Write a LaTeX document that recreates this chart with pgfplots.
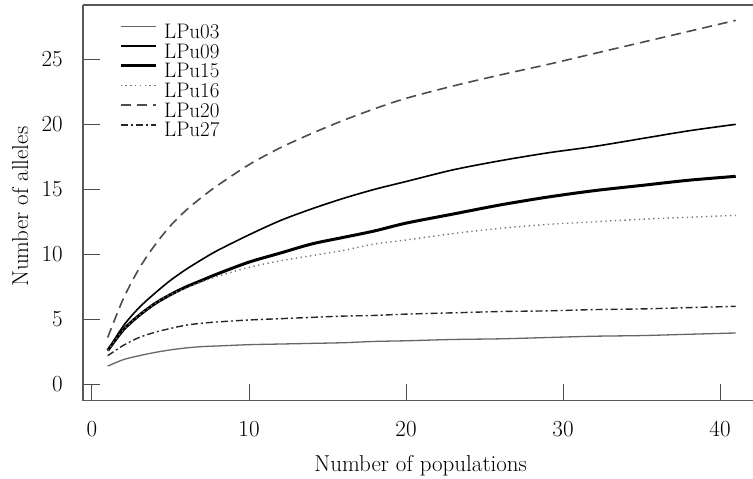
\documentclass[border=0pt]{standalone}
\usepackage{fontspec}
\usepackage{pgfplots}
\usepackage{pgfplotstable}
\pgfplotsset{compat=1.18}
\usetikzlibrary{calc}

% allelic richness vs. number of populations
\pgfplotstableread{
x  LPu03 LPu09 LPu15 LPu16 LPu20 LPu27
1  1.40  2.60  2.60  2.60  3.60  2.20
2  1.90  4.50  4.20  4.20  6.60  3.00
3  2.20  5.90  5.30  5.30  8.90  3.60
4  2.45  7.00  6.20  6.20  10.7  4.00
5  2.65  8.00  6.90  6.90  12.2  4.30
6  2.80  8.85  7.50  7.40  13.4  4.55
7  2.90  9.60  8.00  7.90  14.4  4.70
8  2.95  10.3  8.50  8.30  15.3  4.80
10 3.05  11.5  9.40  9.00  16.9  4.95
12 3.10  12.6  10.1  9.50  18.2  5.05
14 3.15  13.5  10.8  9.90  19.3  5.15
16 3.20  14.3  11.3  10.3  20.3  5.25
18 3.30  15.0  11.8  10.8  21.2  5.30
20 3.35  15.6  12.4  11.1  22.0  5.40
23 3.45  16.5  13.1  11.6  22.95 5.50
26 3.50  17.2  13.8  12.0  23.8  5.60
29 3.60  17.8  14.4  12.3  24.6  5.65
32 3.70  18.3  14.9  12.5  25.45 5.75
35 3.75  18.9  15.3  12.7  26.3  5.80
38 3.85  19.5  15.7  12.85 27.15 5.90
41 3.95  20.0  16.0  13.0  28.0  6.00
}\rich

\begin{document}
\begin{tikzpicture}
\begin{axis}[
  scale only axis, width=670pt, height=395.7pt,
  xmin=-0.573, xmax=42.1, ymin=-1.26, ymax=29.18,
  axis x line=box, axis y line=left,
  axis line style={draw=black!65,line width=1.3pt},
  y axis line style={-},
  xtick={0,10,20,30,40}, ytick={0,5,10,15,20,25},
  xtick pos=left, ytick pos=left,
  tick align=inside, major tick length=17pt,
  tick style={draw=black!70,line width=1pt},
  /pgf/number format/assume math mode=true,
  tick label style={font=\fontsize{23}{27}\selectfont},
  xticklabel style={anchor=north,inner sep=0pt,yshift=-20pt},
  yticklabel style={anchor=east,inner sep=0pt,xshift=-20pt},
  xlabel={Number of populations}, ylabel={Number of alleles},
  every axis x label/.style={at={(axis description cs:0.504,-0.165)},anchor=center,
    font=\fontsize{23}{27}\selectfont},
  every axis y label/.style={at={(axis description cs:-0.094,0.49)},rotate=90,anchor=center,
    font=\fontsize{23}{27}\selectfont},
  legend cell align=left,
  legend image code/.code={\draw[#1] (0pt,5pt) -- (35pt,5pt);},
  legend style={at={(axis description cs:0.0537,0.954)},anchor=north west,
    draw=none,fill=none,inner sep=0pt,row sep=3.7pt,column sep=6pt,
    font=\fontsize{21}{25}\selectfont,
    nodes={inner sep=1pt,text height=14pt,text depth=0pt}},
]
\addplot[smooth,draw=black!60,line width=1.3pt] table[y=LPu03]{\rich};
\addplot[smooth,draw=black,line width=1.6pt] table[y=LPu09]{\rich};
\addplot[smooth,draw=black,line width=3pt] table[y=LPu15]{\rich};
\addplot[smooth,draw=black!55,line width=1.4pt,dash pattern=on 1.3pt off 3.5pt] table[y=LPu16]{\rich};
\addplot[smooth,draw=black!70,line width=1.6pt,dash pattern=on 10pt off 6pt] table[y=LPu20]{\rich};
\addplot[smooth,draw=black!85,line width=1.4pt,dash pattern=on 7pt off 3pt on 2pt off 3pt] table[y=LPu27]{\rich};
\legend{LPu03,LPu09,LPu15,LPu16,LPu20,LPu27}
\end{axis}
\pgfresetboundingbox
\path ($(current axis.south west)+(-83pt,-77.3pt)$) rectangle ($(current axis.north east)+(0pt,5pt)$);
\end{tikzpicture}
\end{document}
